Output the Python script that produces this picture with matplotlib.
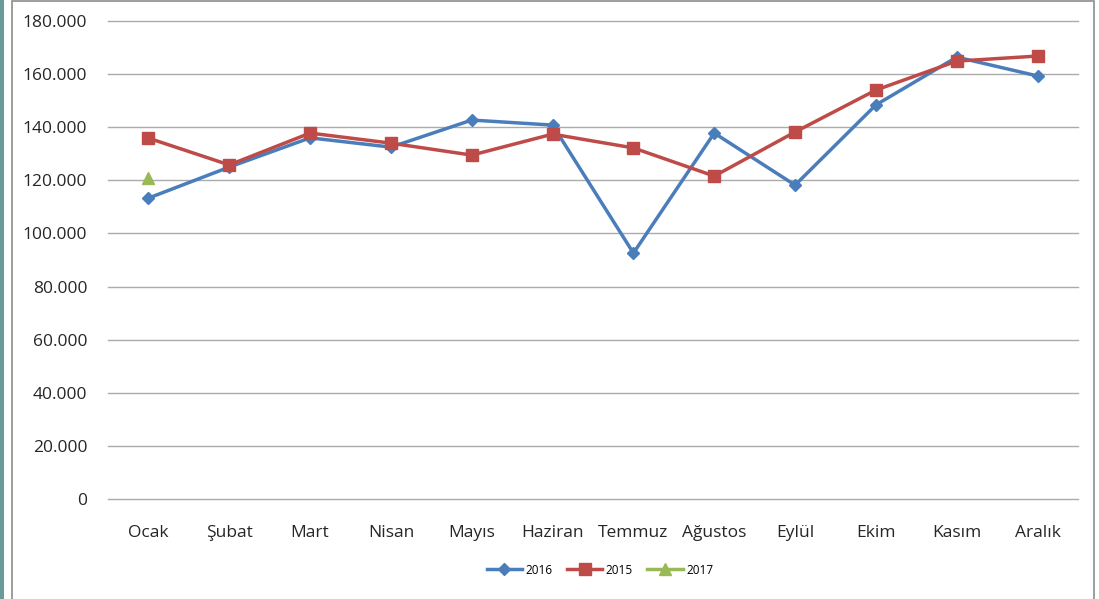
import matplotlib
matplotlib.use("Agg")
import matplotlib.pyplot as plt
from matplotlib.patches import Rectangle
from matplotlib.ticker import FuncFormatter

months = ["Ocak", "Şubat", "Mart", "Nisan", "Mayıs", "Haziran",
          "Temmuz", "Ağustos", "Eylül", "Ekim", "Kasım", "Aralık"]
y2016 = [113300, 125000, 136000, 132500, 142700, 140800,
         92600, 137800, 118200, 148400, 166400, 159300]
y2015 = [135900, 125800, 137800, 134000, 129500, 137400,
         132200, 121600, 138200, 154000, 164900, 166800]
y2017 = [120900]

plt.rcParams['font.family'] = ['Open Sans', 'DejaVu Sans']

fig = plt.figure(figsize=(10.99, 5.99), dpi=100)
W, H = 1099, 599

# teal strip on the left and the gray frame
fig.patches.append(Rectangle((0, 0), 4 / W, 1, transform=fig.transFigure,
                             facecolor="#6b9a9b", edgecolor="none"))
fig.patches.append(Rectangle((12 / W, -0.01), (1094 - 12) / W, 1 - 1 / H + 0.01,
                             transform=fig.transFigure, facecolor="none",
                             edgecolor="#8c8c8c", linewidth=1.2))

ax = fig.add_axes([108 / W, 1 - 499 / H, (1078 - 108) / W, (499 - 21) / H])
x = list(range(len(months)))

ax.plot(x, y2016, color="#4a7ebb", lw=2.5, marker="D", ms=6, label="2016")
ax.plot(x, y2015, color="#be4b48", lw=2.5, marker="s", ms=8, label="2015")
ax.plot(x[:len(y2017)], y2017, color="#98b954", lw=2.5, marker="^", ms=8,
        label="2017", linestyle="none")

ax.set_xlim(-0.5, 11.5)
ax.set_ylim(0, 180000)
ax.set_yticks(range(0, 180001, 20000))
ax.yaxis.set_major_formatter(FuncFormatter(lambda v, p: f"{int(v):,}".replace(",", ".")))
ax.set_xticks(x)
ax.set_xticklabels(months)
ax.grid(axis="y", color="#ababab", lw=1)
for gl in ax.get_ygridlines():
    gl.set_clip_on(False)
ax.set_axisbelow(True)
for s in ax.spines.values():
    s.set_visible(False)
ax.tick_params(length=0, labelsize=12.5, colors="#262626")
ax.tick_params(axis="y", pad=15)
ax.tick_params(axis="x", pad=19)

leg = fig.legend(handles=[ax.lines[0], ax.lines[1], ax.lines[2]],
                 loc="center", bbox_to_anchor=(600 / W, 1 - 570 / H), ncol=3,
                 frameon=False, fontsize=8.5, handlelength=3, columnspacing=1.2,
                 handletextpad=0.3)
leg.legend_handles[2].set_linestyle("-")

fig.savefig("out.png", dpi=100, facecolor="white")
